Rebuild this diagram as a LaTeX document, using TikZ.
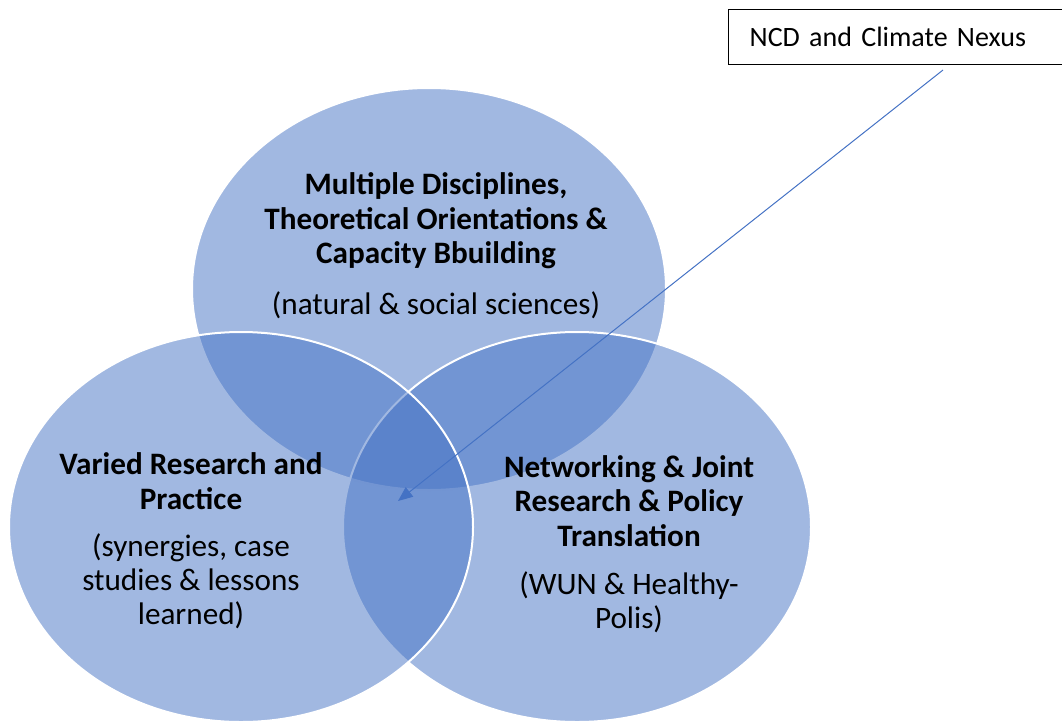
\documentclass[tikz,border=0pt]{standalone}
\usepackage{fontspec}
\setmainfont{Carlito}
\usetikzlibrary{arrows.meta,positioning}
\definecolor{vennblue}{HTML}{4472C4}
\tikzset{every picture/.style={line width=0.75pt}}
\tikzset{
  vennset/.style={fill=vennblue, fill opacity=0.5, draw=white, line width=1.5pt},
  headtext/.style={font=\fontsize{23.4}{25.8}\selectfont\bfseries, align=center, inner sep=0.75pt},
  subtext/.style={font=\fontsize{23.4}{25.5}\selectfont, align=center, inner sep=0.75pt},
  nexusbox/.style={draw=black, line width=1pt, font=\fontsize{21}{25}\selectfont, inner xsep=15.75pt, inner ysep=0pt, text width=228.75pt, align=left, minimum height=41.25pt},
  nexusarrow/.style={draw=vennblue, line width=0.75pt, -{Triangle[length=11pt,width=9pt]}},
}

\begin{document}
\begin{tikzpicture}[x=0.75pt,y=0.75pt,yscale=-1,xscale=1]
\clip (0,0) rectangle (1062,724);
%Shape: Ellipse [top]
\draw [vennset] (429,289) ellipse [x radius=237, y radius=201];
%Shape: Ellipse [right]
\draw [vennset] (577,527) ellipse [x radius=234, y radius=195];
%Shape: Ellipse [left]
\draw [vennset] (241,527) ellipse [x radius=232, y radius=195];
% Text Node
\node [headtext] (toptitle) at (436,221) {Multiple Disciplines,\\Theoretical Orientations \&\\Capacity Bbuilding};
\node [subtext, below=15pt of toptitle] (topsub) {(natural \& social sciences)};
% Text Node
\node [headtext] (lefttitle) at (191,481) {Varied Research and\\Practice};
\node [subtext, below=16pt of lefttitle] (leftsub) {(synergies, case\\studies \& lessons\\learned)};
% Text Node
\node [headtext] (righttitle) at (629,501) {Networking \& Joint\\Research \& Policy\\Translation};
\node [subtext, below=17pt of righttitle] (rightsub) {(WUN \& Healthy-\\Polis)};
% Text Node
\node [nexusbox, anchor=north west] (nexus) at (728,9) {NCD and Climate Nexus};
%Straight Lines
\coordinate (nexustail) at (943,70);
\coordinate (nexushead) at (398,501);
\draw [nexusarrow] (nexustail) -- (nexushead);
\end{tikzpicture}
\end{document}
